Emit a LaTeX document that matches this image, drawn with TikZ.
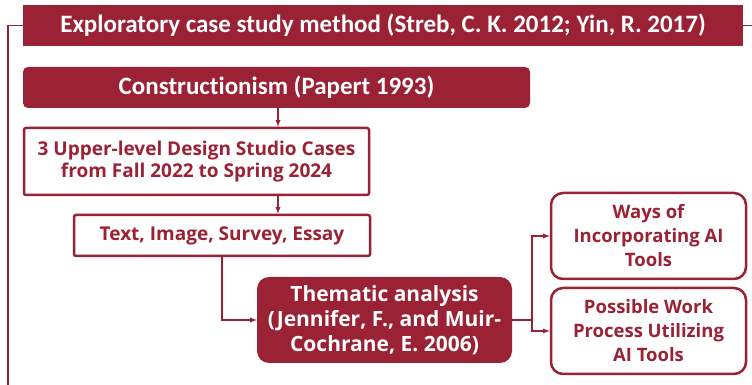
\documentclass[tikz,border=0pt]{standalone}
\usepackage{fontspec}
\setmainfont{Carlito}[Ligatures=NoCommon]
\newfontfamily\boxfont{Open Sans}
\usepackage{xcolor}
\usepackage{tikz}
\usetikzlibrary{arrows, positioning}
\definecolor{studyred}{RGB}{155,34,52}

\begin{document}
\begin{tikzpicture}[
    x=1pt, y=1pt,
    >=latex,
    banner/.style={rectangle, fill=studyred, text=white, align=center, font=\fontsize{25}{28}\selectfont\bfseries},
    redbox/.style={rectangle, fill=studyred, text=white, align=center},
    whitebox/.style={rectangle, draw=studyred, line width=2.5pt, fill=white, text=studyred, align=center, font=\boxfont\fontsize{19}{22}\selectfont\bfseries},
    arrow/.style={->, draw=studyred, line width=1.3pt}
]
\useasboundingbox (0,0) rectangle (752,385);

% Study method banner
\node[banner, minimum width=720pt, minimum height=41pt] (method) at (383,359.5) {Exploratory case study method (Streb, C. K. 2012; Yin, R. 2017)};
\coordinate (frameL) at (8,0);
\coordinate (frameR) at (752,0);
\draw[studyred, line width=1.8pt] (method.west) -| (frameL);
\draw[studyred, line width=1.5pt] (method.east) -- (method.east -| frameR);

% Theory and cases
\node[redbox, rounded corners=5pt, minimum width=507pt, minimum height=41pt, font=\fontsize{25}{28}\selectfont\bfseries] (theory) at (276.5,297.5) {Constructionism (Papert 1993)};
\node[whitebox, rounded corners=2pt, minimum width=345pt, minimum height=67pt] (cases) at (196.5,223.5) {3 Upper-level Design Studio Cases\\from Fall 2022 to Spring 2024};
\node[whitebox, rounded corners=2pt, minimum width=296pt, minimum height=41pt] (data) at (222,149.5) {Text, Image, Survey, Essay};

% Analysis
\node[redbox, rounded corners=12pt, minimum width=255pt, minimum height=86pt, font=\boxfont\fontsize{21}{25}\selectfont\bfseries] (thematic) at (384.5,65) {Thematic analysis\\(Jennifer, F., and Muir-\\Cochrane, E. 2006)};

% Findings
\node[whitebox, rounded corners=12pt, minimum width=195pt, minimum height=86pt, font=\boxfont\fontsize{18.5}{24}\selectfont\bfseries] (ways) at (648.5,149) {Ways of\\Incorporating AI\\Tools};
\node[whitebox, rounded corners=12pt, minimum width=195pt, minimum height=86pt, font=\boxfont\fontsize{18.5}{24}\selectfont\bfseries] (process) at (648.5,54) {Possible Work\\Process Utilizing\\AI Tools};

% Arrows
\coordinate (spine) at (278,0);
\coordinate (split) at (532,0);
\draw[arrow] (theory.south -| spine) -- (cases.north -| spine);
\draw[arrow] (cases.south -| spine) -- (data.north -| spine);
\draw[arrow] (data.south) |- (thematic.west);
\draw[arrow] (thematic.east) -- (thematic.east -| split) |- (ways.west);
\draw[arrow] (thematic.east -| split) |- (process.west);

\end{tikzpicture}
\end{document}
